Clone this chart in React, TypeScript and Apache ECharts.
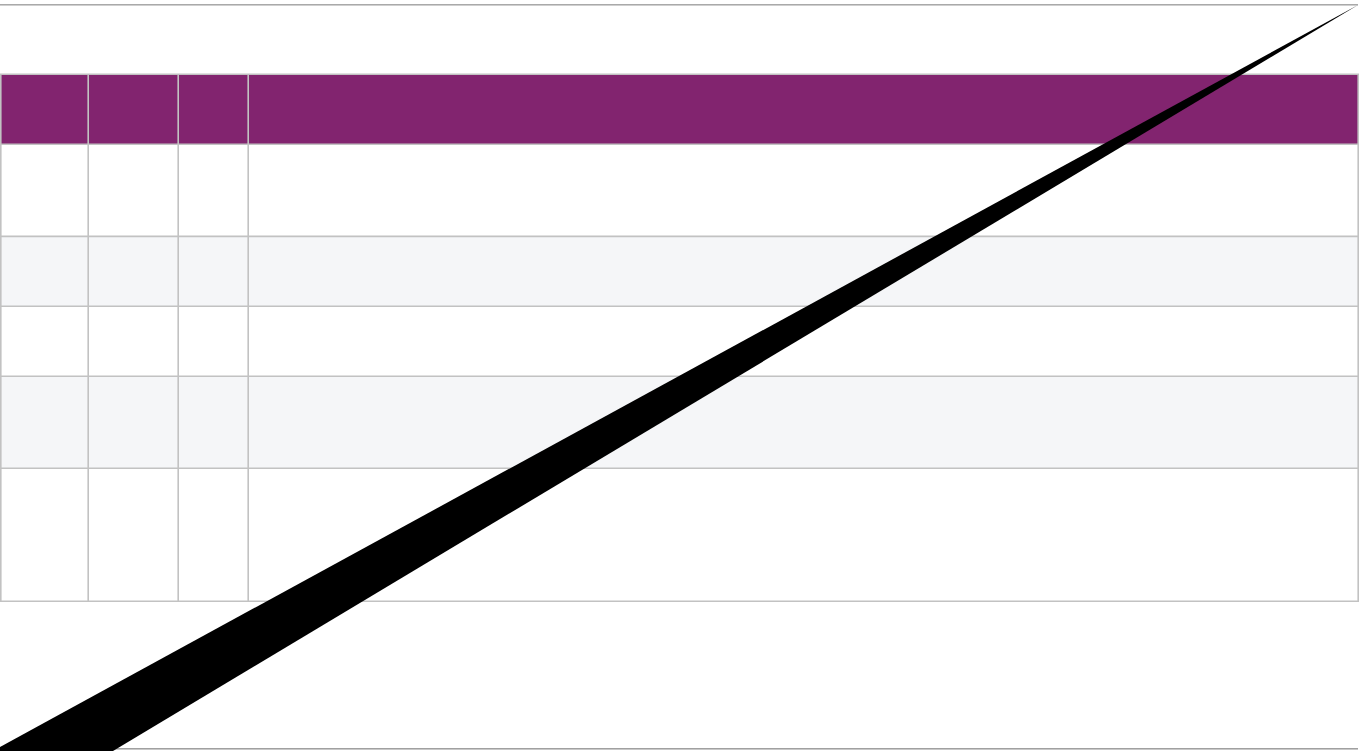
import React, { useEffect, useRef } from "react";
import * as echarts from "echarts";

// Table content (the reference table shows no text in any cell)
const headers: string[] = ["", "", "", ""];
const rows: string[][] = [
  ["", "", "", ""],
  ["", "", "", ""],
  ["", "", "", ""],
  ["", "", "", ""],
  ["", "", "", ""],
];

// Layout (pixel edges of columns and rows)
const colEdges = [0.8, 88.2, 178.2, 248.2, 1358.2];
const rowEdges = [74.2, 144.2, 236.4, 306.2, 376.2, 468.2, 601.2];

const PURPLE = "#82246f";
const BORDER = "#c2c2c2";
const STRIPE = "#f5f6f8";

export default function App() {
  const ref = useRef<HTMLDivElement>(null);
  useEffect(() => {
    document.body.style.margin = "0";
    const chart = echarts.init(ref.current!, undefined, { renderer: "svg" });
    const graphic: any[] = [];
    const x0 = colEdges[0];
    const x1 = colEdges[colEdges.length - 1];

    // page rules (top and bottom)
    graphic.push({ type: "rect", shape: { x: 0, y: 4, width: 1358, height: 1 }, style: { fill: "#a9a9a9" }, silent: true });
    graphic.push({ type: "rect", shape: { x: 0, y: 5, width: 1358, height: 1 }, style: { fill: "#cfcfcf" }, silent: true });
    graphic.push({ type: "rect", shape: { x: 0, y: 748, width: 1358, height: 1 }, style: { fill: "#a0a0a0" }, silent: true });
    graphic.push({ type: "rect", shape: { x: 0, y: 749, width: 1358, height: 1 }, style: { fill: "#c8c8c8" }, silent: true });

    // header background
    graphic.push({
      type: "rect",
      shape: { x: x0, y: rowEdges[0], width: x1 - x0, height: rowEdges[1] - rowEdges[0] },
      style: { fill: PURPLE },
      silent: true,
    });
    // row backgrounds
    rows.forEach((_, i) => {
      graphic.push({
        type: "rect",
        shape: { x: x0, y: rowEdges[i + 1], width: x1 - x0, height: rowEdges[i + 2] - rowEdges[i + 1] },
        style: { fill: i % 2 === 1 ? STRIPE : "#ffffff" },
        silent: true,
      });
    });
    // cell texts
    const cellText = (txt: string, ci: number, ri: number, color: string, bold: boolean) => {
      if (!txt) return;
      graphic.push({
        type: "text",
        x: colEdges[ci] + 10,
        y: (rowEdges[ri] + rowEdges[ri + 1]) / 2,
        style: { text: txt, fill: color, fontSize: 14, fontWeight: bold ? "bold" : "normal", verticalAlign: "middle", fontFamily: "Roboto" },
      });
    };
    headers.forEach((h, ci) => cellText(h, ci, 0, "#ffffff", true));
    rows.forEach((r, ri) => r.forEach((c, ci) => cellText(c, ci, ri + 1, "#333333", false)));

    // grid lines
    rowEdges.forEach((y) => {
      graphic.push({ type: "line", shape: { x1: 0, y1: y, x2: x1 + 0.8, y2: y }, style: { stroke: BORDER, lineWidth: 1.6 }, silent: true });
    });
    colEdges.forEach((x) => {
      graphic.push({ type: "line", shape: { x1: x, y1: rowEdges[0], x2: x, y2: rowEdges[rowEdges.length - 1] }, style: { stroke: BORDER, lineWidth: 1.6 }, silent: true });
    });

    // black wedge overlay
    graphic.push({
      type: "polygon",
      shape: { points: [[0, 747], [1358, 5], [113, 751], [0, 751]] },
      style: { fill: "#000000" },
      silent: true,
    });

    chart.setOption({ animation: false, graphic });
    return () => chart.dispose();
  }, []);
  return <div ref={ref} style={{ position: "absolute", left: 0, top: 0, width: 1372, height: 751 }} />;
}
